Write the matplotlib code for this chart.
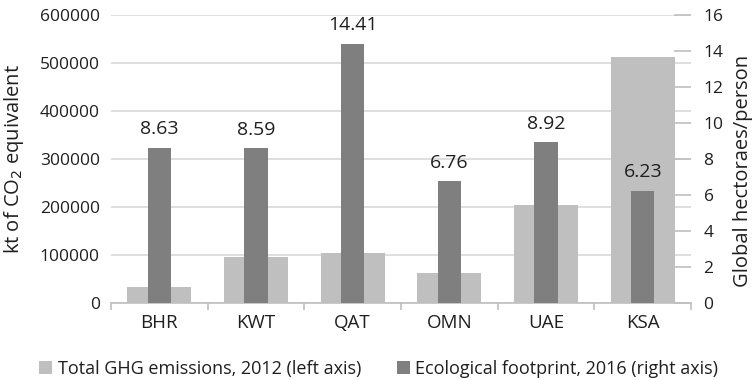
import numpy as np
import matplotlib.pyplot as plt

plt.rcParams['font.family'] = ['Open Sans', 'DejaVu Sans']

# GCC countries
countries = ['BHR', 'KWT', 'QAT', 'OMN', 'UAE', 'KSA']
# total GHG emissions 2012, kt CO2 eq. (left axis)
ghg_2012 = [33000, 96500, 103500, 62500, 204000, 513000]
# ecological footprint 2016, global ha per person (right axis)
footprint_2016 = [8.63, 8.59, 14.41, 6.76, 8.92, 6.23]

light = '#BFBFBF'
dark = '#7F7F7F'
grid_c = '#D9D9D9'
txt_c = '#1f1f1f'

fig = plt.figure(figsize=(7.53, 3.80), dpi=100, facecolor='white')
ax = fig.add_axes([0.1474, 0.2026, 0.7703, 0.7579])
ax2 = ax.twinx()

x = np.arange(len(countries))

ax.bar(x, ghg_2012, width=0.66, color=light, zorder=2,
       label='Total GHG emissions, 2012 (left axis)')
ax2.bar(x, footprint_2016, width=0.24, color=dark, zorder=2,
        label='Ecological footprint, 2016 (right axis)')

for xi, v in zip(x, footprint_2016):
    ax2.annotate('%.2f' % v, (xi, v), xytext=(0, 7), textcoords='offset points',
                 ha='center', va='bottom', fontsize=14, color=txt_c)

# left axis
ax.set_ylim(0, 600000)
ax.set_yticks(np.arange(0, 600001, 100000))
ax.set_yticklabels(['%d' % t for t in np.arange(0, 600001, 100000)])
ax.yaxis.grid(True, color=grid_c, linewidth=1.2)
ax.set_axisbelow(True)
ax.tick_params(axis='y', length=0, pad=8, labelsize=12.5, labelcolor=txt_c)
ax.set_ylabel('kt of CO$_2$ equivalent', fontsize=14.5, color=txt_c, labelpad=10)

# x axis with ticks between categories
ax.set_xlim(-0.5, len(countries) - 0.5)
ax.set_xticks(x)
ax.set_xticklabels(countries)
ax.set_xticks(np.arange(-0.5, len(countries), 1.0), minor=True)
ax.tick_params(axis='x', which='major', length=0, pad=8, labelsize=13.5, labelcolor=txt_c)
ax.tick_params(axis='x', which='minor', length=5, width=1.2, color=light)

for s in ['top', 'left', 'right']:
    ax.spines[s].set_visible(False)
    ax2.spines[s].set_visible(False)
ax2.spines['bottom'].set_visible(False)
ax.spines['bottom'].set_color(light)
ax.spines['bottom'].set_linewidth(1.2)

# right axis
ax2.set_ylim(0, 16)
ax2.set_yticks(np.arange(0, 17, 2))
ax2.tick_params(axis='y', direction='in', length=12.5, width=1.2, color=light,
                pad=9, labelsize=12.5, labelcolor=txt_c)
ax2.set_ylabel('Global hectoraes/person', fontsize=14.5, color=txt_c)
ax2.yaxis.set_label_coords(1.073, 0.46)

h1, l1 = ax.get_legend_handles_labels()
h2, l2 = ax2.get_legend_handles_labels()
fig.legend(h1 + h2, l1 + l2, loc='center', bbox_to_anchor=(0.503, 0.03), ncol=2,
           frameon=False, fontsize=13, handlelength=0.7, handleheight=0.7,
           handletextpad=0.3, columnspacing=2.0, labelcolor=txt_c)

plt.savefig('out.png', dpi=100)
